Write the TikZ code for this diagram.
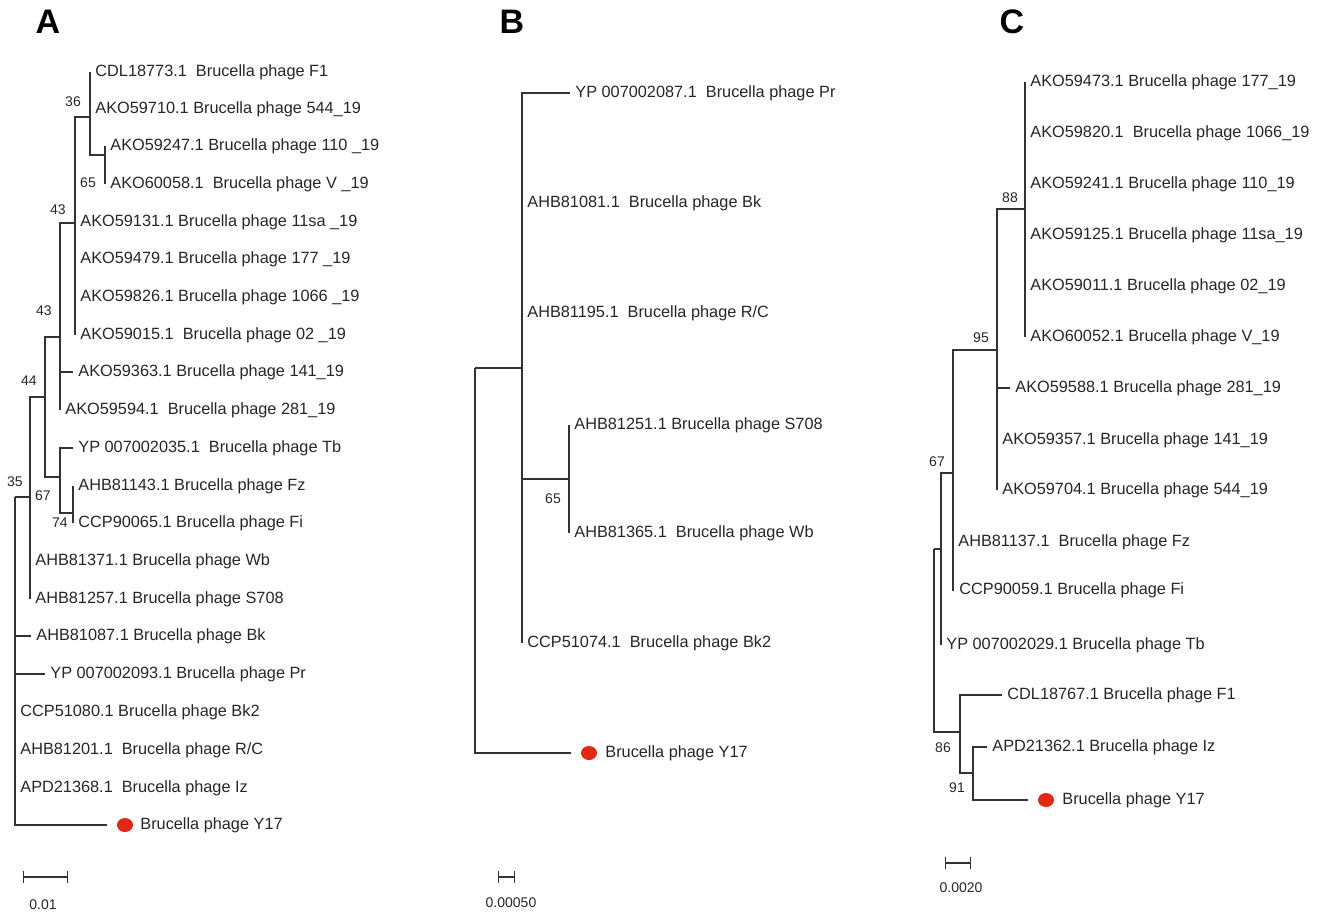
\documentclass[tikz,border=0pt]{standalone}
\usepackage{fontspec}
\setmainfont{Liberation Sans}
\usetikzlibrary{shapes.geometric}

\definecolor{lbl}{gray}{0.15}
\definecolor{y17}{RGB}{225,40,20}

\begin{document}
\begin{tikzpicture}[x=0.5pt, y=-0.5pt,
br/.style = {% branches
    draw=black!80, line width=0.6pt,
            },
lf/.style = {% leaf labels
    anchor=west, inner xsep=2.5pt, inner ysep=1pt,
    font=\fontsize{8.15}{9}\selectfont, text=lbl,
            },
bs/.style = {% bootstrap values
    inner sep=0pt, font=\fontsize{7}{8}\selectfont, text=lbl,
            },
pl/.style = {% panel letters
    inner sep=0pt, font=\fontsize{17}{20}\selectfont\bfseries,
            },
yd/.style = {% red dot of Y17
    ellipse, fill=y17, minimum width=8pt, minimum height=7pt,
    inner sep=0pt, outer sep=5pt,
            },
sb/.style = {% scale bar labels
    inner sep=0pt, font=\fontsize{7}{8}\selectfont, text=lbl,
            },
                        ]
\useasboundingbox (0,0) rectangle (1325,917);

%%%%%%%%%%%% panel A
\node[pl] (pa) at (48,22) {A};
% inner nodes
\coordinate (a0)  at (15,497);
\coordinate (a35) at (30,497);
\coordinate (a44) at (45,397);
\coordinate (a43b) at (60,337);
\coordinate (a43a) at (75,223);
\coordinate (a36) at (90,117);
\coordinate (a65) at (105,155);
\coordinate (a67) at (60,477);
\coordinate (a74) at (73,513);
% leaves
\node[lf] (a1)  at (90,72)  {CDL18773.1~~Brucella phage F1};
\node[lf] (a2)  at (90,109) {AKO59710.1 Brucella phage 544\_19};
\node[lf] (a3)  at (105,146) {AKO59247.1 Brucella phage 110 \_19};
\node[lf] (a4)  at (105,184) {AKO60058.1~~Brucella phage V \_19};
\node[lf] (a5)  at (75,222) {AKO59131.1 Brucella phage 11sa \_19};
\node[lf] (a6)  at (75,259) {AKO59479.1 Brucella phage 177 \_19};
\node[lf] (a7)  at (75,297) {AKO59826.1 Brucella phage 1066 \_19};
\node[lf] (a8)  at (75,335) {AKO59015.1~~Brucella phage 02 \_19};
\node[lf] (a9)  at (73,372) {AKO59363.1 Brucella phage 141\_19};
\node[lf] (a10) at (60,410) {AKO59594.1~~Brucella phage 281\_19};
\node[lf] (a11) at (73,448) {YP 007002035.1~~Brucella phage Tb};
\node[lf] (a12) at (73,486) {AHB81143.1 Brucella phage Fz};
\node[lf] (a13) at (73,523) {CCP90065.1 Brucella phage Fi};
\node[lf] (a14) at (30,561) {AHB81371.1 Brucella phage Wb};
\node[lf] (a15) at (30,599) {AHB81257.1 Brucella phage S708};
\node[lf] (a16) at (31,636) {AHB81087.1 Brucella phage Bk};
\node[lf] (a17) at (45,674) {YP 007002093.1 Brucella phage Pr};
\node[lf] (a18) at (15,712) {CCP51080.1 Brucella phage Bk2};
\node[lf] (a19) at (15,750) {AHB81201.1~~Brucella phage R/C};
\node[lf] (a20) at (15,788) {APD21368.1~~Brucella phage Iz};
\node[yd] (ay)  at (125,825) {};
\node[lf] (ayt) at (135,825) {Brucella phage Y17};
% branches
\draw[br] (a0) |- (a35);
\foreach \n in {a16,a17,a18,a19,a20}{\draw[br] (a0) |- (\n.west);}
\draw[br] (a0) |- (ay);
\draw[br] (a35) |- (a44);
\foreach \n in {a14,a15}{\draw[br] (a35) |- (\n.west);}
\draw[br] (a44) |- (a43b);
\draw[br] (a44) |- (a67);
\draw[br] (a43b) |- (a43a);
\foreach \n in {a9,a10}{\draw[br] (a43b) |- (\n.west);}
\draw[br] (a43a) |- (a36);
\foreach \n in {a5,a6,a7,a8}{\draw[br] (a43a) |- (\n.west);}
\draw[br] (a36) |- (a65);
\foreach \n in {a1,a2}{\draw[br] (a36) |- (\n.west);}
\foreach \n in {a3,a4}{\draw[br] (a65) |- (\n.west);}
\draw[br] (a67) |- (a74);
\draw[br] (a67) |- (a11.west);
\foreach \n in {a12,a13}{\draw[br] (a74) |- (\n.west);}
% bootstrap values
\node[bs] at (73,102) {36};
\node[bs] at (88,183) {65};
\node[bs] at (58,210) {43};
\node[bs] at (44,311) {43};
\node[bs] at (29,381) {44};
\node[bs] at (43,496) {67};
\node[bs] at (60,523) {74};
\node[bs] at (15,482) {35};
% scale bar
\coordinate (as1) at (23,877);
\coordinate (as2) at (68,877);
\draw[br,|-|] (as1) -- (as2);
\node[sb] (asl) at (43,905) {0.01};

%%%%%%%%%%%% panel B
\node[pl] (pb) at (512,22) {B};
\coordinate (b0)  at (475,368);
\coordinate (bn)  at (522,368);
\coordinate (b65) at (569,479);
\node[lf] (b1) at (570,93)  {YP 007002087.1~~Brucella phage Pr};
\node[lf] (b2) at (522,203) {AHB81081.1~~Brucella phage Bk};
\node[lf] (b3) at (522,313) {AHB81195.1~~Brucella phage R/C};
\node[lf] (b4) at (569,425) {AHB81251.1 Brucella phage S708};
\node[lf] (b5) at (569,533) {AHB81365.1~~Brucella phage Wb};
\node[lf] (b6) at (522,643) {CCP51074.1~~Brucella phage Bk2};
\node[yd] (by)  at (589,753) {};
\node[lf] (byt) at (600,753) {Brucella phage Y17};
% branches
\draw[br] (b0) |- (bn);
\draw[br] (b0) |- (by);
\draw[br] (bn) |- (b65);
\foreach \n in {b1,b2,b3,b6}{\draw[br] (bn) |- (\n.west);}
\foreach \n in {b4,b5}{\draw[br] (b65) |- (\n.west);}
\node[bs] at (553,499) {65};
% scale bar
\coordinate (bs1) at (498,877);
\coordinate (bs2) at (515,877);
\draw[br,|-|] (bs1) -- (bs2);
\node[sb] (bsl) at (511,903) {0.00050};

%%%%%%%%%%%% panel C
\node[pl] (pc) at (1012,22) {C};
\coordinate (c0)  at (934,549);
\coordinate (cx)  at (941,549);
\coordinate (c67) at (953,473);
\coordinate (c95) at (997,350);
\coordinate (c88) at (1025,209);
\coordinate (c86) at (960,732);
\coordinate (c91) at (973,773);
\foreach \t [count=\i] in
       {AKO59473.1 Brucella phage 177\_19,
        AKO59820.1~~Brucella phage 1066\_19,
        AKO59241.1 Brucella phage 110\_19,
        AKO59125.1 Brucella phage 11sa\_19,
        AKO59011.1 Brucella phage 02\_19,
        AKO60052.1 Brucella phage V\_19
        }{\node[lf] (c\i) at (1025,{82+51*(\i-1)}) {\t};
          \draw[br] (c88) |- (c\i.west);}
\node[lf] (c7)  at (1010,388) {AKO59588.1 Brucella phage 281\_19};
\node[lf] (c8)  at (997,440)  {AKO59357.1 Brucella phage 141\_19};
\node[lf] (c9)  at (997,490)  {AKO59704.1 Brucella phage 544\_19};
\node[lf] (c10) at (953,542)  {AHB81137.1~~Brucella phage Fz};
\node[lf] (c11) at (954,590)  {CCP90059.1 Brucella phage Fi};
\node[lf] (c12) at (941,645)  {YP 007002029.1 Brucella phage Tb};
\node[lf] (c13) at (1002,695) {CDL18767.1 Brucella phage F1};
\node[lf] (c14) at (987,747)  {APD21362.1 Brucella phage Iz};
\node[yd] (cy)  at (1046,800) {};
\node[lf] (cyt) at (1057,800) {Brucella phage Y17};
% branches
\draw[br] (c0) |- (cx);
\draw[br] (c0) |- (c86);
\draw[br] (cx) |- (c67);
\draw[br] (cx) |- (c12.west);
\draw[br] (c67) |- (c95);
\foreach \n in {c10,c11}{\draw[br] (c67) |- (\n.west);}
\draw[br] (c95) |- (c88);
\foreach \n in {c7,c8,c9}{\draw[br] (c95) |- (\n.west);}
\draw[br] (c86) |- (c13.west);
\draw[br] (c86) |- (c91);
\draw[br] (c91) |- (c14.west);
\draw[br] (c91) |- (cy);
% bootstrap values
\node[bs] at (1010,198) {88};
\node[bs] at (981,338)  {95};
\node[bs] at (937,462)  {67};
\node[bs] at (943,748)  {86};
\node[bs] at (957,788)  {91};
% scale bar
\coordinate (cs1) at (945,863);
\coordinate (cs2) at (971,863);
\draw[br,|-|] (cs1) -- (cs2);
\node[sb] (csl) at (961,888) {0.0020};
\end{tikzpicture}
\end{document}
